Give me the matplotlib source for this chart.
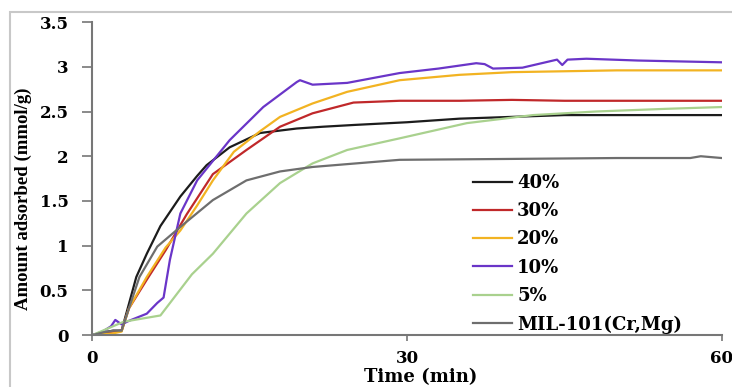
import matplotlib
matplotlib.use('Agg')
from matplotlib import pyplot as plt
from matplotlib.patches import Rectangle

plt.rcParams['font.family'] = ['DejaVu Serif']
plt.rcParams['font.weight'] = 'bold'

# time (min) and amount adsorbed (mmol/g)
t_40 = [0, 1, 2, 2.8, 3.5, 4.2, 5.2, 6.5, 8.4, 10, 10.9, 13.1, 16, 19.5, 22, 25, 30, 35, 40, 45, 50, 55, 60]
y_40 = [0, 0.03, 0.05, 0.05, 0.35, 0.65, 0.91, 1.22, 1.55, 1.78, 1.9, 2.1, 2.26, 2.31, 2.33, 2.35, 2.38, 2.42, 2.44, 2.46, 2.46, 2.46, 2.46]

t_30 = [0, 1, 2, 2.8, 3.5, 5.2, 7, 9, 11.5, 14.7, 17.9, 21, 24.9, 29.3, 35, 40, 45, 50, 55, 60]
y_30 = [0, 0.02, 0.04, 0.05, 0.3, 0.62, 0.95, 1.35, 1.8, 2.07, 2.33, 2.48, 2.6, 2.62, 2.62, 2.63, 2.62, 2.62, 2.62, 2.62]

t_20 = [0, 1, 2, 2.8, 3.5, 5.2, 7, 8.4, 10, 11.5, 13.5, 16, 17.9, 21, 24.3, 29.3, 35, 40, 45, 50, 55, 60]
y_20 = [0, 0.01, 0.02, 0.04, 0.3, 0.65, 0.98, 1.17, 1.45, 1.73, 2.05, 2.28, 2.44, 2.59, 2.72, 2.85, 2.91, 2.94, 2.95, 2.96, 2.96, 2.96]

t_10 = [0, 1, 1.8, 2.2, 2.8, 3.5, 5.2, 6.2, 6.8, 7.4, 8.4, 10, 13.1, 16.3, 19.5, 19.8, 21, 24.3, 29.3, 33, 36.6, 37.4, 38.2, 41, 44.3, 44.8, 45.3, 47.1, 52, 56, 60]
y_10 = [0, 0.04, 0.1, 0.17, 0.12, 0.16, 0.24, 0.36, 0.42, 0.84, 1.36, 1.73, 2.18, 2.55, 2.83, 2.85, 2.8, 2.82, 2.93, 2.98, 3.04, 3.03, 2.98, 2.99, 3.08, 3.02, 3.08, 3.09, 3.07, 3.06, 3.05]

t_5 = [0, 1, 2, 3, 4.5, 6.5, 8, 9.5, 11.5, 14.7, 17.9, 21, 24.3, 29.3, 35.7, 42, 48, 54.7, 60]
y_5 = [0, 0.05, 0.1, 0.15, 0.18, 0.22, 0.45, 0.68, 0.91, 1.36, 1.7, 1.92, 2.07, 2.2, 2.37, 2.46, 2.5, 2.53, 2.55]

t_mil = [0, 1, 2, 2.8, 3.5, 4.5, 6.2, 8.4, 11.5, 14.7, 17.9, 21, 29.3, 40, 50, 57, 58, 60]
y_mil = [0, 0.03, 0.05, 0.05, 0.3, 0.65, 0.99, 1.21, 1.51, 1.73, 1.83, 1.88, 1.96, 1.97, 1.98, 1.98, 2.0, 1.98]

series = [
    ('40%', t_40, y_40, '#1c1c1c'),
    ('30%', t_30, y_30, '#c0282a'),
    ('20%', t_20, y_20, '#f2b322'),
    ('10%', t_10, y_10, '#6a35c8'),
    ('5%', t_5, y_5, '#a9d18e'),
    ('MIL-101(Cr,Mg)', t_mil, y_mil, '#6e6e6e'),
]

fig = plt.figure(figsize=(7.32, 3.87), dpi=100)
ax = fig.add_axes([0.126, 0.134, 0.86, 0.809])

# light frame around the picture
fig.patches.append(Rectangle((0.014, -0.1), 1.2, 1.069, transform=fig.transFigure,
                             fill=False, edgecolor='#c8c8c8', linewidth=1.5))

for name, t, y, c in series:
    ax.plot(t, y, color=c, linewidth=1.6, label=name)

ax.set_xlim(0, 60)
ax.set_ylim(0, 3.5)
ax.set_xticks([0, 30, 60])
ax.set_yticks([0, 0.5, 1, 1.5, 2, 2.5, 3, 3.5])
ax.set_yticklabels(['0', '0.5', '1', '1.5', '2', '2.5', '3', '3.5'])
ax.tick_params(axis='both', labelsize=12, color='#777777', width=1.2)
ax.tick_params(axis='y', length=7, pad=10)
ax.tick_params(axis='x', length=4, pad=7)

for s in ['top', 'right']:
    ax.spines[s].set_visible(False)
for s in ['left', 'bottom']:
    ax.spines[s].set_color('#777777')
    ax.spines[s].set_linewidth(1.5)

ax.set_xlabel('Time (min)', fontsize=13, fontweight='bold', va='top')
ax.set_ylabel('Amount adsorbed (mmol/g)', fontsize=13.5, fontweight='bold',
              family='Liberation Serif')
ax.xaxis.set_label_coords(0.521, -0.106)
ax.yaxis.set_label_coords(-0.0956, 0.435)

ax.legend(loc='upper left', bbox_to_anchor=(0.591, 0.544), frameon=False,
          prop={'size': 13, 'weight': 'bold'}, handlelength=2.15, borderpad=0,
          handletextpad=0.28, labelspacing=0.57)

plt.savefig('out.png', dpi=100)
